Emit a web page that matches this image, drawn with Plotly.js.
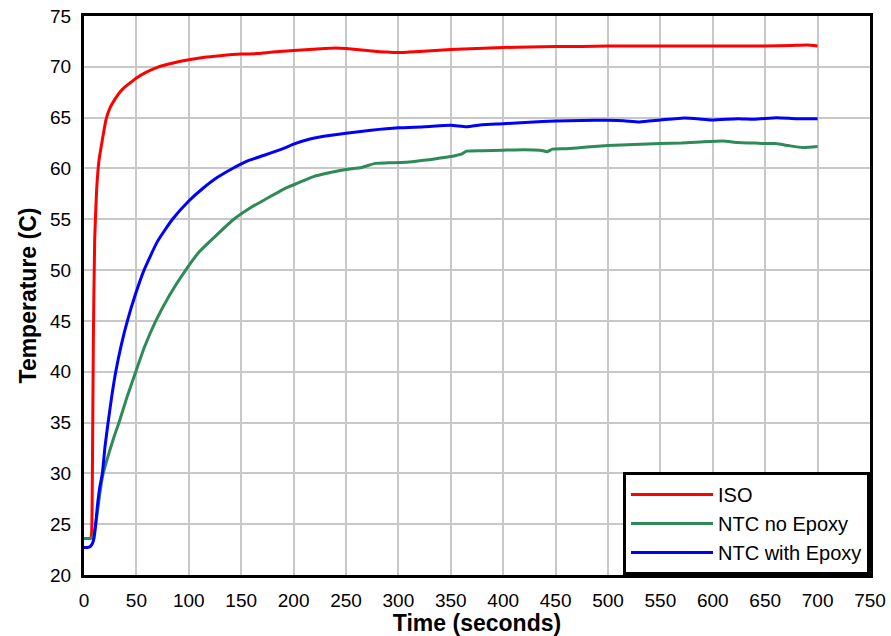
<!DOCTYPE html>
<html>
<head>
<meta charset="utf-8">
<script src="https://cdn.plot.ly/plotly-3.0.1.min.js"></script>
<style>html,body{margin:0;padding:0;background:#fff;}#chart{width:891px;height:636px;}</style>
</head>
<body>
<div id="chart"></div>
<script>
// ISO
const isoTime = [0,3,6,7,8,8.9,10.2,12.1,14.3,17.5,21,25,30,35,40,45,50,60,70,80,90,100,115,130,150,165,180,200,215,230,240,250,260,270,280,290,300,310,320,335,350,375,400,425,450,475,500,525,550,575,600,625,650,675,690,700];
const isoTemp = [23.6,23.6,23.6,23.8,30,43,53,58,60.8,62.8,64.8,66.0,66.9,67.6,68.1,68.5,68.9,69.5,69.95,70.25,70.5,70.7,70.95,71.1,71.25,71.3,71.45,71.6,71.7,71.8,71.85,71.8,71.7,71.6,71.5,71.45,71.4,71.45,71.5,71.6,71.7,71.8,71.9,71.95,72.0,72.0,72.05,72.05,72.05,72.05,72.05,72.05,72.05,72.1,72.15,72.05];

// NTC no Epoxy
const noEpoxyTime = [0,3,6,8,9.5,12,14.3,17.5,21,25,29,33.4,41,49.4,58,68.5,82,97,110,125,143,160,172,191,205,219,235,250,265,278,290,307,320,333,345,354,360,365,380,400,420,435,442,447,460,480,500,525,550,570,588,610,624,640,650,660,672,686,700];
const noEpoxyTemp = [23.6,23.6,23.6,23.7,24.1,25.6,27.4,29.6,31.0,32.4,33.7,35.0,37.5,40.0,42.5,45.0,47.6,50.0,51.8,53.3,55.0,56.2,56.9,58.0,58.6,59.2,59.6,59.9,60.1,60.5,60.55,60.6,60.75,60.9,61.1,61.25,61.4,61.7,61.75,61.8,61.85,61.8,61.65,61.9,61.95,62.1,62.25,62.35,62.45,62.5,62.6,62.7,62.55,62.5,62.45,62.45,62.25,62.05,62.15];

// NTC with Epoxy
const epoxyTime = [0,3,6,8,9.5,11,12.7,15,17.5,20,23,26.5,30.3,35.5,41.4,49,57.3,70,84.4,100,113,127,141.7,155,172,191,200,215.7,225,250,274,300,325,350,365,380,400,425,450,475,500,515,530,550,573,590,600,624,640,661,680,700];
const epoxyTemp = [22.7,22.7,22.8,23.1,23.6,24.8,26.7,28.6,30.0,32.6,35.0,37.6,40.0,42.6,45.0,47.6,50.0,52.8,55.0,56.8,58.0,59.1,60.0,60.7,61.3,62.0,62.4,62.9,63.1,63.46,63.76,64.0,64.1,64.25,64.1,64.3,64.4,64.55,64.67,64.72,64.74,64.7,64.58,64.77,64.97,64.85,64.77,64.9,64.85,65.0,64.9,64.9];

const seriesNames = ['ISO','NTC no Epoxy','NTC with Epoxy'];
const seriesColors = ['#ff0000','#2e8b57','#0000ff'];

const traces = [
  {x: isoTime, y: isoTemp},
  {x: noEpoxyTime, y: noEpoxyTemp},
  {x: epoxyTime, y: epoxyTemp}
].map((d,i)=>({x:d.x, y:d.y, type:'scatter', mode:'lines', name:seriesNames[i],
  line:{color:seriesColors[i], width:3, shape:'spline', smoothing:0.5}}));

const font = 'Liberation Sans, Arial, sans-serif';
const axisCommon = {
  showline:true, linecolor:'#000', linewidth:3, mirror:true,
  showgrid:true, gridcolor:'#c8c8c8', gridwidth:2,
  zeroline:false, ticks:'', tickfont:{family:font, size:19, color:'#000'}
};
const layout = {
  width:891, height:636,
  margin:{l:84, r:21, t:16, b:61},
  paper_bgcolor:'#fff', plot_bgcolor:'#fff',
  font:{family:font, color:'#000'},
  xaxis: Object.assign({}, axisCommon, {
    range:[0,750], dtick:50, tick0:0, ticklabelstandoff:6,
    title:{text:'Time (seconds)', font:{family:font, size:23, color:'#000', weight:'bold'}, standoff:4}
  }),
  yaxis: Object.assign({}, axisCommon, {
    range:[20,75], dtick:5, tick0:20, ticklabelstandoff:6,
    title:{text:'Temperature (C)', font:{family:font, size:23, color:'#000', weight:'bold'}, standoff:8}
  }),
  showlegend:true,
  legend:{x:1, xanchor:'right', y:0, yanchor:'bottom', bgcolor:'#fff', bordercolor:'#000', borderwidth:3,
    font:{family:font, size:20, color:'#000'}, itemwidth:82, tracegroupgap:0}
};
Plotly.newPlot('chart', traces, layout, {displayModeBar:false, staticPlot:true});
</script>
</body>
</html>
